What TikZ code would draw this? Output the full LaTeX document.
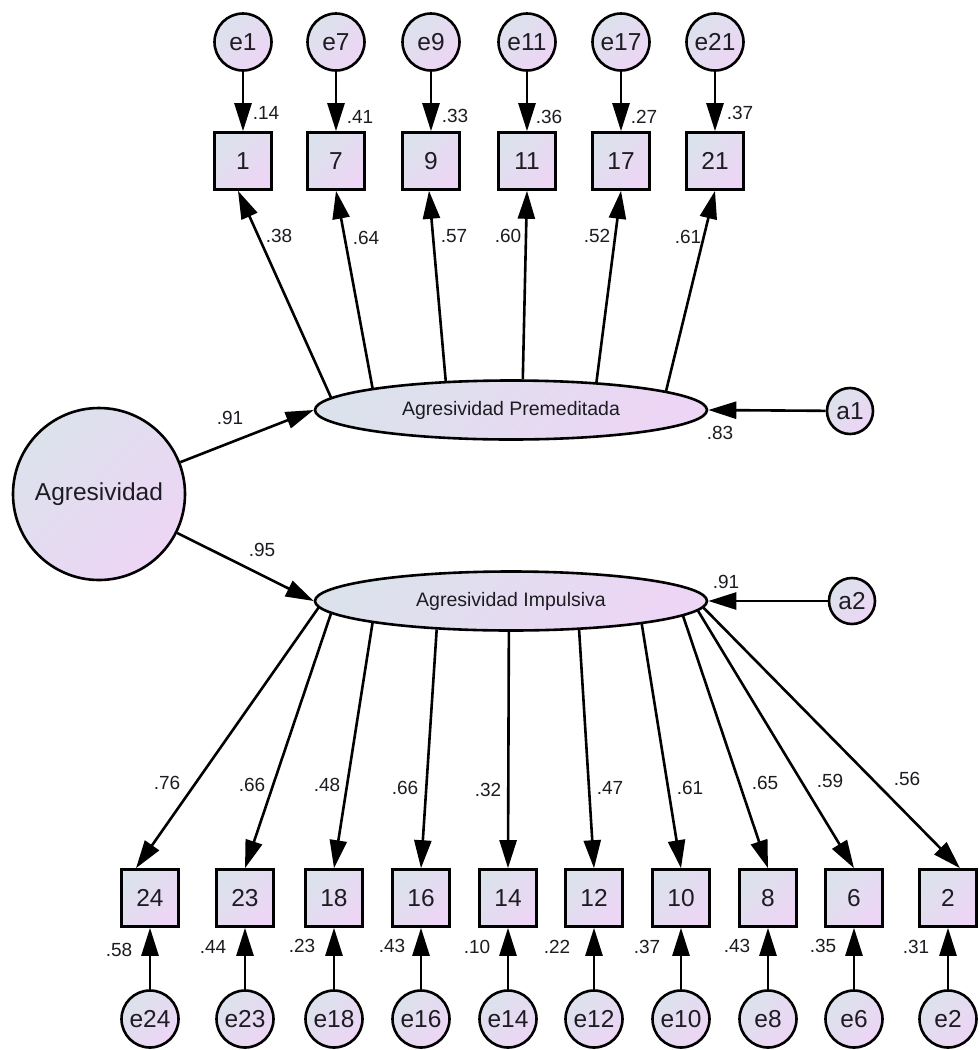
\documentclass[tikz,border=0pt]{standalone}
\usepackage{fontspec}
\setmainfont{Liberation Sans}
\usetikzlibrary{arrows.meta,shapes.geometric}
\definecolor{cA}{RGB}{220,226,236}
\definecolor{cB}{RGB}{237,213,245}
\definecolor{ink}{RGB}{28,28,34}
\begin{document}
\begin{tikzpicture}[x=1pt,y=-1pt,
  shadedfill/.style={draw=black, line width=2.6pt, top color=cA, bottom color=cB, shading angle=45, text=ink},
  errc/.style={shadedfill, circle, minimum size=57pt, inner sep=0pt, font=\fontsize{24.5}{28}\selectfont},
  resc/.style={shadedfill, circle, minimum size=46pt, inner sep=0pt, font=\fontsize{24.5}{28}\selectfont},
  obs/.style={shadedfill, rectangle, minimum size=57pt, inner sep=0pt, font=\fontsize{24.5}{28}\selectfont},
  lat/.style={shadedfill, ellipse, minimum width=392pt, minimum height=59pt, inner sep=0pt, font=\fontsize{19.5}{22}\selectfont},
  coef/.style={font=\fontsize{19}{22}\selectfont, text=ink, inner sep=0pt},
  arr/.style={draw=black, line width=2.6pt, -{Triangle[length=28pt,width=17pt]}},
]
\useasboundingbox (0,0) rectangle (978,1050);
\fill[white] (0,0) rectangle (978,1050);

% second-order factor
\node[shadedfill, circle, minimum size=172pt, inner sep=0pt, font=\fontsize{24.5}{28}\selectfont] (ag) at (99,494) {Agresividad};

% first-order factors
\node[lat] (pm) at (511,410) {Agresividad Premeditada};
\node[lat] (pi) at (511,601) {Agresividad Impulsiva};

% disturbances
\node[resc] (a1) at (850,411) {a1};
\node[resc] (a2) at (852,601) {a2};

% top indicators
\foreach \n/\x in {1/243,7/336,9/431,11/527,17/621,21/715}{
  \node[obs] (s\n) at (\x,161) {\n};
  \node[errc] (e\n) at (\x,42) {e\n};
}

% bottom indicators
\foreach \n/\x in {24/150,23/245,18/334,16/421,14/508,12/594,10/681,8/768,6/854,2/948}{
  \node[obs] (s\n) at (\x,898) {\n};
  \node[errc] (e\n) at (\x,1019) {e\n};
}

% structural paths
\draw[arr] (ag) -- (pm.west);
\draw[arr] (ag) -- (pi.west);
\draw[arr] (a1) -- (pm.east);
\draw[arr] (a2) -- (pi.east);

% top loadings
\draw[arr] (pm.176.5) -- ([xshift=-5pt]s1.south);
\draw[arr] (pm.171.5) -- (s7.south);
\draw[arr] (pm.156) -- ([xshift=-2pt]s9.south);
\draw[arr] (pm.69) -- (s11.south);
\draw[arr] (pm.18) -- (s17.south);
\draw[arr] (pm.7) -- (s21.south);

% top errors
\foreach \n in {1,7,9,11,17,21}{ \draw[arr] (e\n) -- (s\n); }

% bottom loadings
\draw[arr] (pi.182) -- ([xshift=-14pt]s24.north);
\draw[arr] (pi.184.5) -- (s23.north);
\draw[arr] (pi.189) -- (s18.north);
\draw[arr] (pi.201) -- (s16.north);
\draw[arr] (pi.266) -- (s14.north);
\draw[arr] (pi.337) -- (s12.north);
\draw[arr] (pi.350.7) -- (s10.north);
\draw[arr] (pi.355.5) -- (s8.north);
\draw[arr] (pi.357.3) -- (s6.north);
\draw[arr] (pi.358.8) -- ([xshift=12pt]s2.north);

% bottom errors
\foreach \n in {24,23,18,16,14,12,10,8,6,2}{ \draw[arr] (e\n) -- (s\n); }

% coefficient labels
\node[coef] (l91) at (230,418) {.91};
\node[coef] (l95) at (262,550) {.95};
\node[coef] (l83) at (720,433) {.83};
\node[coef] (l91b) at (726,582) {.91};

\node[coef] (r1) at (266,113) {.14};
\node[coef] (r7) at (360,117) {.41};
\node[coef] (r9) at (455,116) {.33};
\node[coef] (r11) at (549,117) {.36};
\node[coef] (r17) at (644,117) {.27};
\node[coef] (r21) at (740,113) {.37};

\node[coef] (k1) at (279,236) {.38};
\node[coef] (k7) at (366,238) {.64};
\node[coef] (k9) at (454,236) {.57};
\node[coef] (k11) at (508,236) {.60};
\node[coef] (k17) at (597,236) {.52};
\node[coef] (k21) at (688,237) {.61};

\node[coef] (k24) at (167,783) {.76};
\node[coef] (k23) at (252,785) {.66};
\node[coef] (k18) at (327,785) {.48};
\node[coef] (k16) at (405,788) {.66};
\node[coef] (k14) at (488,790) {.32};
\node[coef] (k12) at (610,788) {.47};
\node[coef] (k10) at (690,788) {.61};
\node[coef] (k8) at (765,783) {.65};
\node[coef] (k6) at (830,781) {.59};
\node[coef] (k2) at (907,779) {.56};

\node[coef] (r24) at (119,950) {.58};
\node[coef] (r23) at (213,947) {.44};
\node[coef] (r18) at (302,946) {.23};
\node[coef] (r16) at (392,946) {.43};
\node[coef] (r14) at (477,947) {.10};
\node[coef] (r12) at (557,947) {.22};
\node[coef] (r10) at (647,947) {.37};
\node[coef] (r8) at (737,946) {.43};
\node[coef] (r6) at (823,946) {.35};
\node[coef] (r2) at (916,947) {.31};
\end{tikzpicture}
\end{document}
